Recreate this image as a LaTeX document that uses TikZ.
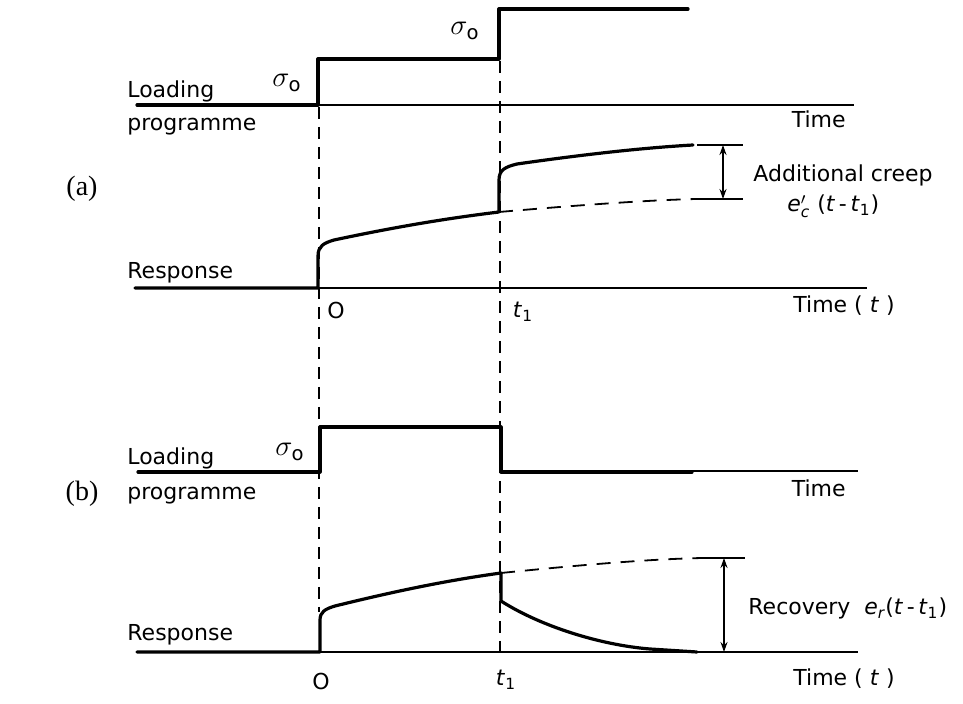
\documentclass[tikz,border=0pt]{standalone}
\usepackage{amsmath}
\usepackage{fontspec}
\setmainfont{DejaVu Sans}
\newfontfamily\serifpart{Liberation Serif}
\usetikzlibrary{arrows.meta}
\tikzset{
  curve/.style={line width=1.6pt, line cap=round, line join=round},
  axisline/.style={line width=0.9pt},
  guide/.style={line width=0.8pt, dash pattern=on 6pt off 4pt},
  predict/.style={line width=0.9pt, dash pattern=on 7pt off 5pt},
  tickline/.style={line width=0.9pt},
  dimarrow/.style={line width=0.9pt, {Stealth[length=5pt,width=3.5pt]}-{Stealth[length=5pt,width=3.5pt]}},
  lbl/.style={inner sep=0pt, font=\fontsize{11}{13}\selectfont},
  sig/.style={inner sep=0pt, font=\fontsize{14}{16}\selectfont},
  partlbl/.style={inner sep=0pt, font=\serifpart\fontsize{14}{16}\selectfont},
}
\newcommand{\tvar}{\textit{t}}
\newcommand{\sigo}{$\sigma_{\text{o}}$}
\begin{document}
\begin{tikzpicture}[x=0.5pt,y=-0.5pt]
\useasboundingbox (0,0) rectangle (963,704);

% ---------- (a) loading programme ----------
\draw[axisline] (318,105) -- (854,105);
\draw[curve] (137,105) -- (318,105) -- (318,59) -- (499,59) -- (499,9) -- (688,9);
\node[lbl, anchor=base west] (loadA) at (127,98) {Loading};
\node[lbl, anchor=base west] (progA) at (127,131) {programme};
\node[lbl, anchor=base east] (timeA) at (846,128) {Time};
\node[sig] (sigA1) at (287,83) {\sigo};
\node[sig] (sigA2) at (465,31) {\sigo};

% ---------- guide lines ----------
\draw[guide] (319,107) -- (319,612);
\draw[guide] (500,61) -- (500,652);

% ---------- (a) response ----------
\draw[axisline] (135,288) -- (867,288);
\draw[curve] (135,288) -- (318,288) -- (318,256)
  .. controls (318,246) and (324,243) .. (334,240)
  .. controls (400,226) and (450,218) .. (499,212)
  -- (499,180)
  .. controls (499,170) and (505,167) .. (517,164)
  .. controls (580,155) and (640,148) .. (693,145);
\draw[predict] (499,212) .. controls (580,205) and (650,200) .. (697,199);
\coordinate (upA) at (723,145);
\coordinate (loA) at (723,199);
\draw[tickline] (697,145) -- (743,145);
\draw[tickline] (697,199) -- (743,199);
\draw[dimarrow] (upA) -- (loA);
\node[lbl, anchor=base west] (addA) at (753,182) {Additional creep};
\node[lbl, anchor=base west] (ecA) at (787,212) {$\textit{e}'_{\textit{c}}$ (\tvar\,-\,\tvar$_{\text{1}}$)};
\node[lbl, anchor=base west] (respA) at (127,279) {Response};
\node[lbl, anchor=base west] (timeTA) at (793,313) {Time ( \tvar\ )};
\node[lbl] (zeroA) at (336,310) {O};
\node[lbl] (t1A) at (523,312) {\tvar$_{\text{1}}$};
\node[partlbl] (partA) at (82,189) {(a)};

% ---------- (b) loading programme ----------
\draw[axisline] (692,471) -- (858,471);
\draw[curve] (138,472) -- (320,472) -- (320,427) -- (501,427) -- (501,472) -- (692,472);
\node[lbl, anchor=base west] (loadB) at (127,465) {Loading};
\node[lbl, anchor=base west] (progB) at (127,500) {programme};
\node[lbl, anchor=base east] (timeB) at (846,497) {Time};
\node[sig] (sigB) at (290,452) {\sigo};

% ---------- (b) response ----------
\draw[axisline] (137,652) -- (858,652);
\draw[curve] (137,652) -- (320,652) -- (320,620)
  .. controls (320,612) and (325,609) .. (335,606)
  .. controls (400,590) and (450,580) .. (501,573)
  -- (501,601)
  .. controls (540,626) and (600,645) .. (650,649)
  -- (697,652);
\draw[predict] (501,573) .. controls (580,565) and (650,559) .. (703,558);
\coordinate (upB) at (724,558);
\coordinate (loB) at (724,652);
\draw[tickline] (703,558) -- (745,558);
\draw[dimarrow] (upB) -- (loB);
\node[lbl, anchor=base west] (recB) at (748,615) {Recovery\ \ $\textit{e}_{\textit{r}}$(\tvar\,-\,\tvar$_{\text{1}}$)};
\node[lbl, anchor=base west] (respB) at (127,640) {Response};
\node[lbl, anchor=base west] (timeTB) at (793,685) {Time ( \tvar\ )};
\node[lbl] (zeroB) at (321,681) {O};
\node[lbl] (t1B) at (506,680) {\tvar$_{\text{1}}$};
\node[partlbl] (partB) at (82,494) {(b)};
\end{tikzpicture}
\end{document}
